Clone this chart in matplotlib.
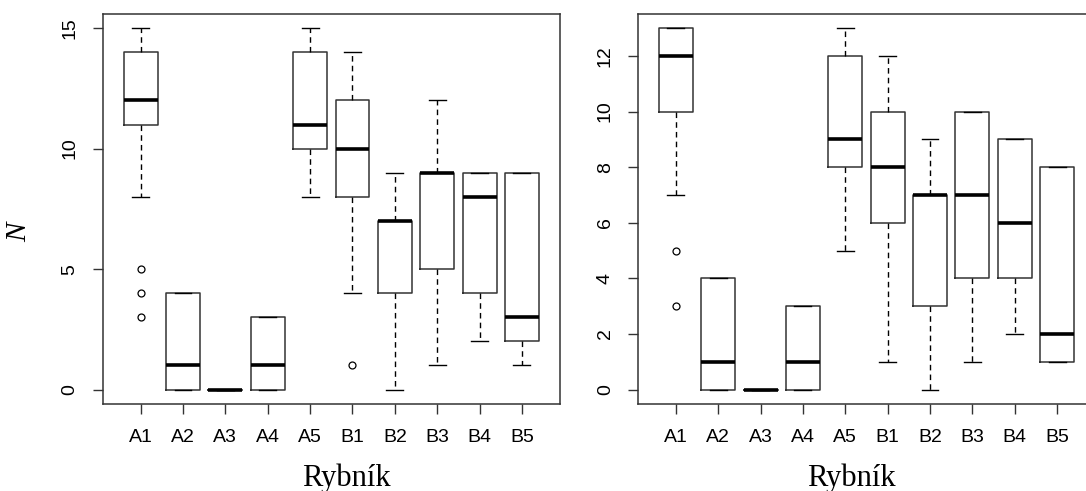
import matplotlib
matplotlib.use("Agg")
import matplotlib.pyplot as plt

# ponds (x categories)
ponds = ['A1', 'A2', 'A3', 'A4', 'A5', 'B1', 'B2', 'B3', 'B4', 'B5']

# left panel: whisker low, Q1, median, Q3, whisker high, outliers
left_lo = [8, 0, 0, 0, 8, 4, 0, 1, 2, 1]
left_q1 = [11, 0, 0, 0, 10, 8, 4, 5, 4, 2]
left_med = [12, 1, 0, 1, 11, 10, 7, 9, 8, 3]
left_q3 = [14, 4, 0, 3, 14, 12, 7, 9, 9, 9]
left_hi = [15, 4, 0, 3, 15, 14, 9, 12, 9, 9]
left_out = [[3, 4, 5], [], [], [], [], [1], [], [], [], []]
left_yticks = [0, 5, 10, 15]

# right panel
right_lo = [7, 0, 0, 0, 5, 1, 0, 1, 2, 1]
right_q1 = [10, 0, 0, 0, 8, 6, 3, 4, 4, 1]
right_med = [12, 1, 0, 1, 9, 8, 7, 7, 6, 2]
right_q3 = [13, 4, 0, 3, 12, 10, 7, 10, 9, 8]
right_hi = [13, 4, 0, 3, 13, 12, 9, 10, 9, 8]
right_out = [[3, 5], [], [], [], [], [], [], [], [], []]
right_yticks = [0, 2, 4, 6, 8, 10, 12]

GREY = '#333333'


def make_stats(lo, q1, med, q3, hi, out):
    return [dict(label=p, whislo=a, q1=b, med=c, q3=d, whishi=e, fliers=f)
            for p, a, b, c, d, e, f in zip(ponds, lo, q1, med, q3, hi, out)]


def draw(ax, stats, yticks, ymax, xlab_x):
    ax.bxp(stats, widths=0.8, capwidths=0.4, showfliers=True,
           boxprops=dict(color=GREY, lw=1.1),
           whiskerprops=dict(color='black', lw=1.0, linestyle=(0, (4, 3))),
           capprops=dict(color='black', lw=1.0),
           medianprops=dict(color='black', lw=2.6, solid_capstyle='butt'),
           flierprops=dict(marker='o', markerfacecolor='none',
                           markeredgecolor='black', markersize=5, mew=0.9))
    pad = 0.04 * ymax
    ax.set_ylim(-pad, ymax + pad)
    ax.set_xlim(0.1, 10.9)
    ax.set_yticks(yticks)
    ax.set_yticklabels([str(t) for t in yticks], rotation=90, va='center')
    ax.tick_params(axis='both', direction='out', length=7.2, width=1.0,
                   color=GREY, labelsize=14, labelcolor='black')
    ax.tick_params(axis='y', pad=10)
    ax.tick_params(axis='x', pad=11)
    for s in ax.spines.values():
        s.set_color(GREY)
        s.set_linewidth(1.1)
    ax.set_xlabel('Rybník', family='Liberation Serif', fontsize=22,
                  va='baseline')
    ax.xaxis.set_label_coords(xlab_x, -0.210)


plt.rcParams['font.family'] = ['Liberation Sans', 'DejaVu Sans']

fig = plt.figure(figsize=(10.86, 4.91), dpi=100)
ax1 = fig.add_axes([0.0944, 0.1772, 0.4213, 0.7949])
ax2 = fig.add_axes([0.5872, 0.1772, 0.4213, 0.7949])

draw(ax1, make_stats(left_lo, left_q1, left_med, left_q3, left_hi, left_out),
     left_yticks, 15, 0.534)
draw(ax2, make_stats(right_lo, right_q1, right_med, right_q3, right_hi, right_out),
     right_yticks, 13, 0.468)

ax1.set_ylabel('N', family='Liberation Serif', style='italic', fontsize=21,
               va='center')
ax1.yaxis.set_label_coords(-0.1825, 0.4407)

fig.savefig('out.png', dpi=100)
